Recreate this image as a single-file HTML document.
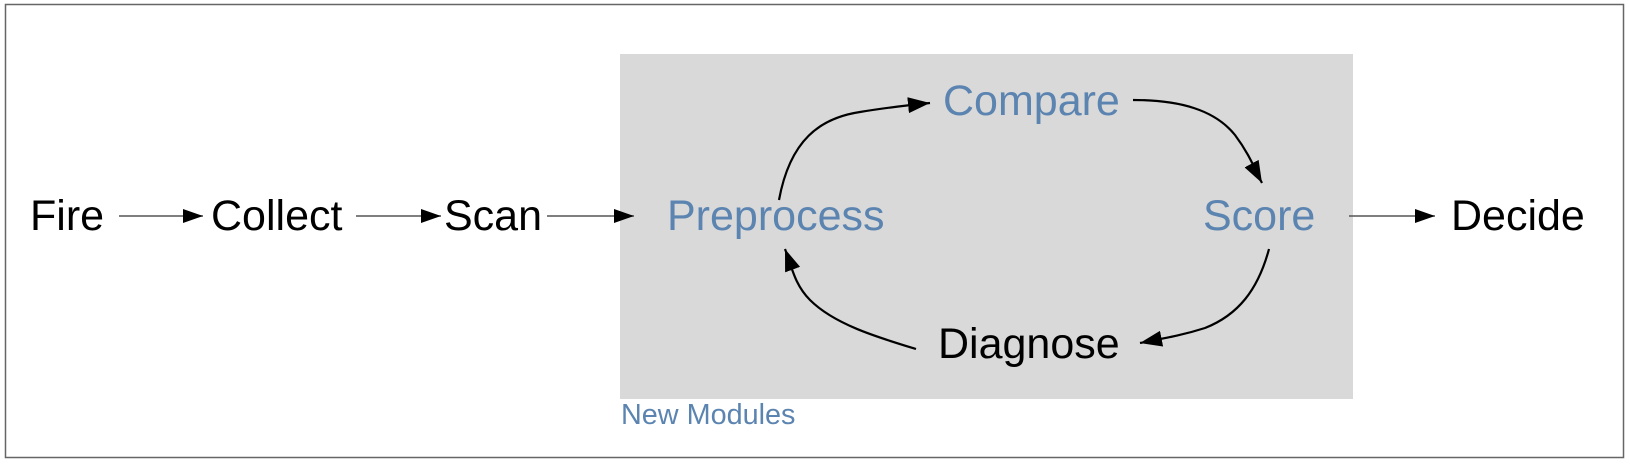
<!DOCTYPE html>
<html><head><style>
html,body{margin:0;padding:0;background:#fff;}
svg{display:block}
text{font-family:"Liberation Sans",sans-serif;}
</style></head><body>
<svg width="1630" height="464" viewBox="0 0 1630 464" xmlns="http://www.w3.org/2000/svg">
<defs>
<marker id="b" viewBox="0 0 20 14" refX="20" refY="7" markerWidth="20" markerHeight="14" markerUnits="userSpaceOnUse" orient="auto"><path d="M0,0 L20,7 L0,14 z" fill="#000"/></marker>
<marker id="c" viewBox="0 0 22 16" refX="22" refY="8" markerWidth="22" markerHeight="16" markerUnits="userSpaceOnUse" orient="auto"><path d="M0,0 L22,8 L0,16 z" fill="#000"/></marker>
</defs>
<rect x="5.5" y="4.5" width="1618" height="453" fill="#fff" stroke="#666" stroke-width="1.5"/>
<rect x="620" y="54" width="733" height="345" fill="#d9d9d9"/>
<g font-size="43">
<text x="30" y="230">Fire</text>
<text x="211" y="230">Collect</text>
<text x="444" y="230">Scan</text>
<text x="667" y="230" fill="#5b84b1">Preprocess</text>
<text x="943" y="115" fill="#5b84b1">Compare</text>
<text x="1203" y="230" fill="#5b84b1">Score</text>
<text x="938" y="358">Diagnose</text>
<text x="1451" y="230">Decide</text>
</g>
<text x="621" y="424" font-size="28.8" fill="#5b84b1">New Modules</text>
<g stroke="#555" stroke-width="1.5" fill="none" marker-end="url(#b)">
<line x1="119" y1="216" x2="203" y2="216"/>
<line x1="356" y1="216" x2="441" y2="216"/>
<line x1="547" y1="216" x2="634" y2="216"/>
<line x1="1349" y1="216" x2="1435" y2="216"/>
</g>
<g stroke="#000" stroke-width="2.2" fill="none" marker-end="url(#c)">
<path d="M779,200 C790,140 820,118 860,112 C890,107 910,105 930,103"/>
<path d="M1133,100 C1180,100 1215,110 1235,135 C1250,155 1255,170 1262,183"/>
<path d="M1269,249 C1258,290 1238,315 1205,328 C1180,336 1160,339 1140,343"/>
<path d="M916,349 C880,338 835,325 810,300 C795,285 792,268 785,249"/>
</g>
</svg>
</body></html>
